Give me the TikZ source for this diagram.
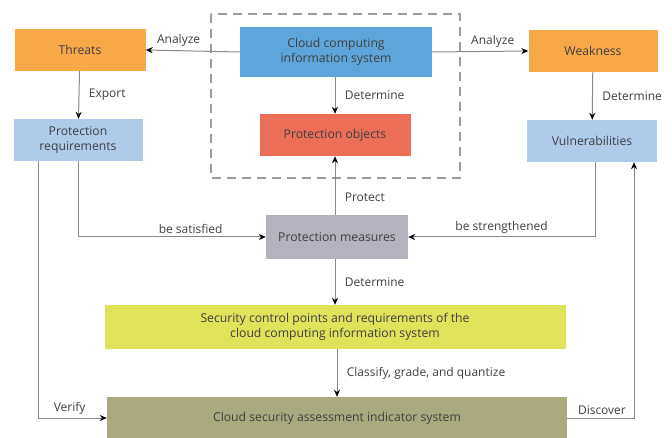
\documentclass[tikz,border=0pt]{standalone}
\usepackage{fontspec}
\setmainfont{Open Sans}
\usepackage{tikz}
\usetikzlibrary{positioning, arrows.meta}
\definecolor{threatorange}{HTML}{F7A847}
\definecolor{cloudblue}{HTML}{5EA5DB}
\definecolor{objred}{HTML}{EC6E57}
\definecolor{reqblue}{HTML}{AFCBEA}
\definecolor{measgray}{HTML}{B3B2BE}
\definecolor{ctrlyellow}{HTML}{DFE35A}
\definecolor{assessolive}{HTML}{A9AA7E}
\definecolor{linegray}{HTML}{8A8A8A}
\definecolor{textgray}{HTML}{404040}
\tikzset{
    box/.style={draw=none, inner sep=0pt, align=center, text=textgray,
        font=\fontsize{12.2}{15}\selectfont},
    link/.style={color=linegray, line width=1pt,
        -{Stealth[black,length=7pt,width=6pt]}},
    lbl/.style={text=textgray, font=\fontsize{12}{14}\selectfont}
}

\begin{document}
\begin{tikzpicture}[x=1pt,y=-1pt]
\useasboundingbox[fill=white] (0,0) rectangle (672,438);
% the part under study
\draw[linegray!85, line width=2.6pt, dash pattern=on 9pt off 6pt] (211,14) rectangle (460,178);

\node[box, fill=threatorange, minimum width=131pt, minimum height=42pt] (threats) at (80,50) {Threats};
\node[box, fill=cloudblue, minimum width=192pt, minimum height=50pt] (cloud) at (336,52) {Cloud computing\\information system};
\node[box, fill=threatorange, minimum width=129pt, minimum height=42pt] (weak) at (593,51) {Weakness};
\node[box, fill=objred, minimum width=151pt, minimum height=42pt] (pobj) at (335,135) {Protection objects};
\node[box, fill=reqblue, minimum width=129pt, minimum height=42pt] (preq) at (78,140) {Protection\\requirements};
\node[box, fill=reqblue, minimum width=130pt, minimum height=42pt] (vuln) at (592,141) {Vulnerabilities};
\node[box, fill=measgray, minimum width=142pt, minimum height=44pt] (meas) at (337,237) {Protection measures};
\node[box, fill=ctrlyellow, minimum width=461pt, minimum height=44pt] (ctrl) at (335,327) {Security control points and requirements of the\\cloud computing information system};
\node[box, fill=assessolive, minimum width=460pt, minimum height=42pt] (assess) at (337,418) {Cloud security assessment indicator system};

\path[link]
(cloud.west) edge node [lbl, above, pos=0.65] {Analyze} (threats.east)
(cloud.east) edge node [lbl, above, pos=0.63] {Analyze} (weak.west)
(threats) edge node [lbl, right, xshift=6pt] {Export} (preq)
(cloud.south -| pobj) edge node [lbl, right, xshift=6pt] {Determine} (pobj)
(weak) edge node [lbl, right, xshift=6pt] {Determine} (vuln)
(meas.north -| pobj) edge node [lbl, right, xshift=6pt, pos=0.3] {Protect} (pobj)
(meas.south -| ctrl) edge node [lbl, right, xshift=6pt] {Determine} (ctrl.north)
(ctrl.south -| assess) edge node [lbl, right, xshift=6pt] {Classify, grade, and quantize} (assess.north);

\draw[link] (preq.south) |- node [lbl, above, pos=0.8] {be satisfied} (meas.west);
\draw[link] ([xshift=3pt]vuln.south) |- node [lbl, above, pos=0.75] {be strengthened} (meas.east);
\draw[link] ([xshift=-40pt]preq.south) |- node [lbl, above, pos=0.73] {Verify} (assess.west);
\draw[link] (assess.east) -| node [lbl, above, pos=0.26] {Discover} ([xshift=42pt]vuln.south);
\end{tikzpicture}
\end{document}
